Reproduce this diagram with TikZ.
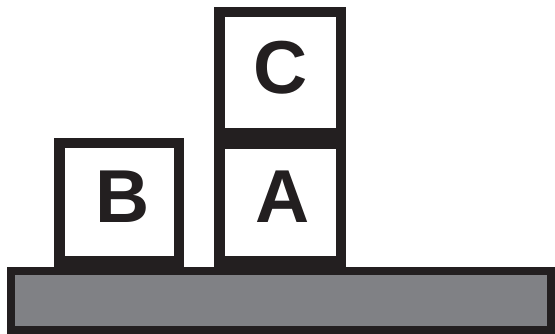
\documentclass[tikz,border=0pt]{standalone}
\usepackage{fontspec}
\setmainfont{Liberation Sans}
\definecolor{ink}{HTML}{231F20}
\definecolor{tablegray}{HTML}{808185}
\tikzset{
  block/.style={draw=ink, fill=white, line width=10.5pt, inner sep=0pt,
    font=\fontsize{75}{75}\bfseries\selectfont, text=ink,
    text height=54pt, text depth=14pt},
  tabletop/.style={draw=ink, fill=tablegray, line width=8pt, inner sep=0pt}
}
\begin{document}
\begin{tikzpicture}[x=1pt,y=1pt]
\useasboundingbox (0,0) rectangle (555,334);
\node[tabletop, minimum width=540pt, minimum height=59pt] (table) at (281,33.5) {};
\node[block, minimum width=119.5pt, minimum height=118.5pt] (B) at (119,131.5) {\hspace*{8pt}B};
\node[block, minimum width=121.5pt, minimum height=118pt] (A) at (280,131.25) {\hspace*{6pt}A};
\node[block, minimum width=121.5pt, minimum height=121pt, text depth=12pt] (C) at (280,261.25) {\hspace*{1pt}C};
\end{tikzpicture}
\end{document}
